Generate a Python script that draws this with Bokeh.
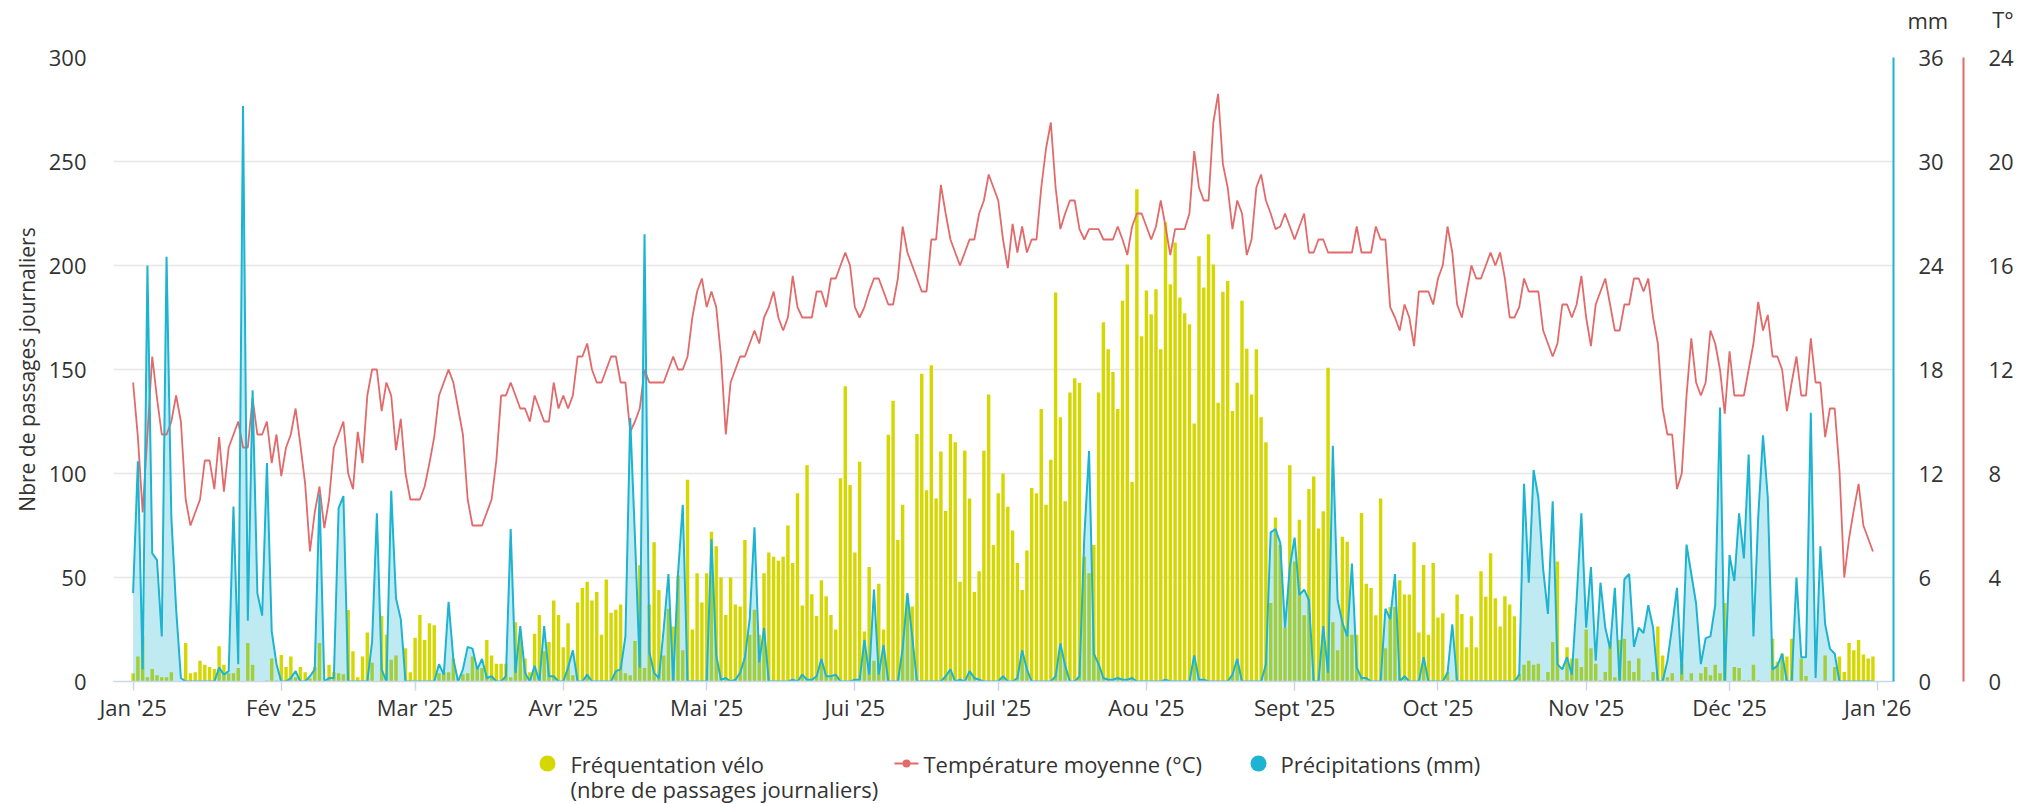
from bokeh.plotting import figure
from bokeh.layouts import column
from bokeh.models import Range1d, LinearAxis, FixedTicker, ColumnDataSource
from bokeh.core.properties import value
from bokeh.embed import file_html
from bokeh.resources import INLINE

# ---------------- data (one value per day of 2025) ----------------
month_ticks = [0, 31, 59, 90, 120, 151, 181, 212, 243, 273, 304, 334, 365]
month_labels = ["Jan '25", "Fév '25", "Mar '25", "Avr '25", "Mai '25", "Jui '25",
                "Juil '25", "Aou '25", "Sept '25", "Oct '25", "Nov '25", "Déc '25", "Jan '26"]

# daily bicycle counts
velo = [
    4, 12, 22, 2, 6, 3, 2, 2, 4.5, 0, 0, 18.5, 4, 4.5, 10, 8, 7, 6, 17, 8, 4, 4, 6.5, 0, 18.5, 8, 0, 0, 0.5, 11, 0.5,
    12.7, 7, 12, 2, 7, 4.5, 1.5, 7, 18.5, 0, 8, 4.5, 4, 3.5, 34.4, 14.5, 2, 12, 23.5, 9, 0, 31.5, 22.5, 10.5, 12.5, 0, 16, 4.5,
    21, 32, 20, 28, 27, 4, 4.5, 4.5, 11, 1.5, 3.5, 4, 12, 7.5, 6.5, 20, 12.5, 8.5, 8.5, 8.5, 2, 28.5, 22.5, 11, 4.5, 23, 32, 14.5, 19, 39, 32,
    16.5, 28, 3, 38, 45, 48, 39, 43, 22.5, 49, 33, 34.5, 37, 4, 3, 19.5, 56, 6.5, 37, 67, 44, 12.5, 35, 26.5, 51, 15, 97, 25, 52, 38,
    52, 72, 65, 50, 32, 50, 37, 36, 68, 22.5, 34.5, 22.5, 52, 62, 60, 58, 60, 75, 57, 90.5, 36.5, 104, 42, 31.5, 48.7, 41, 32, 25, 97.7, 142, 94.5,
    62, 105.6, 24, 55, 10, 47, 25, 118.6, 135, 68, 85, 41.4, 36, 119, 148, 92, 152, 88, 110.6, 82, 119, 115, 48, 111, 88, 43, 53, 111, 138, 65.6,
    90.5, 100, 84, 72.6, 57, 44, 63, 93, 90.5, 131, 85, 106.6, 187, 127, 86.7, 139, 145.8, 143.6, 60, 52, 65.6, 139, 172.7, 159.7, 148.8, 131, 183, 200.5, 96, 236.7, 166,
    188, 176.6, 188.6, 159.7, 220.8, 191, 211, 184.6, 177, 171.7, 124, 204.5, 189.4, 215, 200.5, 134, 187.4, 192.6, 130, 143.6, 183, 160, 138, 159.7, 127, 115, 37.8, 78.8, 65.6, 26, 104,
    57.7, 77.8, 31.8, 92.5, 98.5, 73.6, 81.8, 150.8, 28.5, 15, 69.6, 67.2, 22.5, 22.5, 81, 47, 45, 31.8, 88, 16, 35.8, 35.8, 48.7, 41.8, 41.8, 67, 23.5, 56, 22.5, 57,
    30.8, 32.8, 4.6, 0.6, 41.8, 32.4, 16.5, 31.4, 16.5, 53, 40.8, 61.7, 40, 26.5, 41, 37, 31.4, 3.6, 8, 10, 8, 8.5, 0.6, 4.6, 19, 57.7, 0.6, 16.5, 11, 11, 7,
    25, 16, 8.5, 0.6, 4.6, 19, 2, 20, 20.5, 10, 4.6, 11, 0.6, 0.6, 4.6, 26.5, 12.5, 2, 4, 0, 8.5, 0.6, 4, 0, 4, 7, 3, 8, 4, 37.8,
    0, 7, 6.5, 0.6, 0.6, 8, 0.6, 0, 0, 20.5, 9.5, 13.5, 12, 20.5, 0, 11, 2.6, 0, 0, 0, 12.5, 0, 7, 12, 4.6, 18.5, 15, 20, 13, 11, 12,
]

# daily mean temperature (°C)
temperature = [
    11.5, 9.4, 6.5, 9.5, 12.5, 10.9, 9.5, 9.5, 10.0, 11.0, 10.0, 7.0, 6.0, 6.5, 7.0, 8.5, 8.5, 7.4, 9.4, 7.3, 9.0, 9.5, 10.0, 9.0, 9.0, 10.9, 9.5, 9.5, 10.0, 8.4, 9.5,
    7.9, 9.0, 9.5, 10.5, 9.1, 7.6, 5.0, 6.5, 7.5, 5.9, 7.0, 9.0, 9.5, 10.0, 8.0, 7.4, 9.6, 8.4, 11.0, 12.0, 12.0, 10.4, 11.5, 11.0, 8.9, 10.1, 8.0, 7.0,
    7.0, 7.0, 7.5, 8.4, 9.4, 11.0, 11.5, 12.0, 11.5, 10.5, 9.5, 7.0, 6.0, 6.0, 6.0, 6.5, 7.0, 8.5, 11.0, 11.0, 11.5, 11.0, 10.5, 10.5, 10.0, 11.0, 10.5, 10.0, 10.0, 11.5, 10.5,
    11.0, 10.5, 11.0, 12.5, 12.5, 13.0, 12.0, 11.5, 11.5, 12.0, 12.5, 12.5, 11.5, 11.5, 9.6, 10.0, 10.5, 12.0, 11.5, 11.5, 11.5, 11.5, 12.0, 12.5, 12.0, 12.0, 12.5, 14.0, 15.0, 15.5,
    14.4, 15.0, 14.4, 12.5, 9.5, 11.5, 12.0, 12.5, 12.5, 13.0, 13.5, 13.0, 14.0, 14.4, 15.0, 14.0, 13.5, 14.0, 15.6, 14.4, 14.0, 14.0, 14.0, 15.0, 15.0, 14.4, 15.5, 15.5, 16.0, 16.5, 16.0,
    14.4, 14.0, 14.4, 15.0, 15.5, 15.5, 15.0, 14.5, 14.5, 15.5, 17.5, 16.5, 16.0, 15.5, 15.0, 15.0, 17.0, 17.0, 19.1, 18.0, 17.0, 16.5, 16.0, 16.5, 17.0, 17.0, 18.0, 18.5, 19.5, 19.0,
    18.5, 17.0, 15.9, 17.6, 16.5, 17.5, 16.5, 17.0, 17.0, 19.0, 20.5, 21.5, 19.0, 17.4, 18.0, 18.5, 18.5, 17.4, 17.0, 17.4, 17.4, 17.4, 17.0, 17.0, 17.0, 17.5, 17.0, 16.4, 17.5, 18.0, 18.0,
    17.5, 17.0, 17.5, 18.5, 17.5, 16.4, 17.4, 17.4, 17.4, 18.0, 20.4, 19.0, 18.5, 18.5, 21.5, 22.6, 19.9, 19.0, 17.4, 18.5, 18.0, 16.4, 17.0, 19.0, 19.5, 18.5, 18.0, 17.4, 17.5, 18.0, 17.5,
    17.0, 17.5, 18.0, 16.5, 16.5, 17.0, 17.0, 16.5, 16.5, 16.5, 16.5, 16.5, 16.5, 17.5, 16.5, 16.5, 16.5, 17.5, 17.0, 17.0, 14.4, 14.0, 13.5, 14.5, 14.0, 12.9, 15.0, 15.0, 15.0, 14.5,
    15.5, 16.0, 17.5, 16.5, 14.5, 14.0, 15.0, 16.0, 15.5, 15.5, 16.0, 16.5, 16.0, 16.5, 15.5, 14.0, 14.0, 14.4, 15.5, 15.0, 15.0, 15.0, 13.5, 13.0, 12.5, 13.0, 14.5, 14.5, 14.0, 14.5, 15.6,
    14.0, 12.9, 14.5, 15.0, 15.5, 14.5, 13.5, 13.5, 14.5, 14.5, 15.5, 15.5, 15.0, 15.5, 14.0, 13.0, 10.5, 9.5, 9.5, 7.4, 8.0, 11.0, 13.2, 11.5, 11.0, 11.5, 13.5, 13.0, 12.0, 10.3,
    12.7, 11.0, 11.0, 11.0, 12.0, 13.0, 14.6, 13.5, 14.1, 12.5, 12.5, 12.0, 10.4, 11.5, 12.5, 11.0, 11.0, 13.2, 11.5, 11.5, 9.4, 10.5, 10.5, 8.1, 4.0, 5.5, 6.6, 7.6, 6.0, 5.5, 5.0,
]

# daily precipitation (mm)
precipitations = [
    5.1, 12.7, 0.7, 24.0, 7.4, 7.0, 2.6, 24.5, 9.5, 4.2, 0.2, 0, 0, 0, 0, 0, 0, 0, 0.8, 0.4, 0.6, 10.1, 1.0, 33.2, 3.5, 16.8, 5.1, 3.8, 12.6, 2.9, 1.0,
    0, 0, 0.2, 0.6, 0, 0, 0.3, 0.7, 10.8, 0, 0.2, 0.2, 10.0, 10.7, 0, 0, 0, 0, 0, 2.3, 9.7, 0.7, 0, 11.0, 4.8, 3.6, 0, 0,
    0, 0, 0, 0, 0, 1.0, 0.4, 4.6, 1.3, 0, 0.7, 2.0, 1.9, 0.7, 1.3, 0.2, 0.3, 0, 0, 0.3, 8.8, 0.5, 3.2, 0.5, 0, 0.9, 0, 3.2, 0.3, 0.3, 0,
    0, 0.8, 1.8, 0, 0, 0.4, 0, 0, 0, 0, 0, 0.6, 0.7, 2.6, 15.2, 8.3, 0.8, 25.8, 1.7, 0.5, 0.2, 3.0, 6.2, 0, 6.2, 10.2, 0, 0, 0, 0,
    0, 8.2, 1.5, 0.1, 0.2, 0, 0.1, 0.5, 1.4, 3.6, 8.9, 1.1, 3.1, 0, 0, 0, 0, 0, 0.1, 0, 0.4, 0.1, 0.1, 0.3, 1.3, 0.3, 0.3, 0.4, 0, 0, 0,
    0.1, 0.1, 2.4, 0.4, 5.3, 0.4, 2.1, 0, 0, 0, 1.9, 5.1, 2.6, 0, 0, 0, 0, 0, 0, 0.3, 0.7, 0, 0.1, 0, 0.6, 0.2, 0.1, 0, 0, 0,
    0, 0.3, 0, 0, 0.2, 1.8, 0.7, 0, 0, 0, 0, 0, 0.3, 2.2, 0.9, 0, 0, 0.3, 8.3, 13.3, 1.6, 1.0, 0.2, 0.1, 0.1, 0.2, 0.1, 0.1, 0.2, 0, 0,
    0, 0, 0, 0, 0.1, 0, 0, 0, 0, 0, 1.5, 0.1, 0.1, 0, 0, 0, 0, 0, 0.4, 1.3, 0, 0, 0, 0, 0, 1.0, 8.6, 8.8, 8.0, 3.1, 6.6,
    8.3, 5.0, 5.3, 4.7, 0, 0, 3.2, 0.5, 13.6, 4.7, 3.4, 2.6, 6.8, 0.8, 0.2, 0.2, 0, 0, 0, 4.2, 3.6, 6.2, 0, 0.3, 0, 0, 0, 1.4, 0, 0,
    0, 0, 0.5, 3.3, 0, 0, 0, 0, 0, 0, 0, 0, 0, 0, 0, 0, 0, 0.4, 11.4, 5.7, 12.2, 10.6, 6.5, 3.9, 10.4, 1.0, 0.7, 1.4, 0.4, 4.7, 9.7,
    3.1, 6.6, 1.2, 5.7, 3.1, 1.9, 5.4, 0, 5.9, 6.2, 2.0, 3.1, 2.8, 4.4, 3.1, 0, 0, 1.2, 3.2, 5.4, 0.4, 7.9, 6.2, 4.5, 1.0, 2.5, 2.6, 4.4, 15.8, 0,
    7.3, 5.8, 9.7, 7.1, 13.1, 2.6, 9.5, 14.2, 10.6, 0.7, 0.9, 1.6, 0, 0, 6.0, 1.4, 1.4, 15.5, 0.2, 7.8, 3.3, 1.9, 1.6, 0, 0, 0, 0, 0, 0, 0, 0,
]

velo_ticks = [0, 50, 100, 150, 200, 250, 300]
mm_ticks = [0, 6, 12, 18, 24, 30, 36]
temp_ticks = [0, 4, 8, 12, 16, 20, 24]
unit_mm = "mm"
unit_temp = "T°"
legend_labels = ["Fréquentation vélo", "(nbre de passages journaliers)",
                 "Température moyenne (°C)", "Précipitations (mm)"]

# ---------------- styling / geometry ----------------
YEL = "#d5d800"
CYAN = "#1cb4d0"
RED = "#e26a6a"
TXT = "#333333"
FONT = "Open Sans"
FS = "22px"
LEFT, FRAME_W, RIGHT = 113, 1780, 126


def strip(height, yr):
    f = figure(frame_width=FRAME_W, frame_height=height,
               min_border_left=LEFT, min_border_right=RIGHT,
               min_border_top=0, min_border_bottom=0,
               x_range=Range1d(LEFT, LEFT + FRAME_W), y_range=Range1d(0, yr),
               x_axis_location=None, y_axis_location=None,
               output_backend="svg", toolbar_location=None)
    f.grid.visible = False
    f.outline_line_color = None
    return f


# ---- top strip: titles of the two right axes ----
top = strip(36, 36)
top_ax = LinearAxis(ticker=FixedTicker(ticks=[17]), major_label_overrides={17: unit_mm},
                    axis_line_color=None, major_tick_line_color=None, minor_tick_line_color=None,
                    major_tick_out=0, major_tick_in=0, major_label_standoff=14,
                    major_label_text_font=FONT, major_label_text_font_size=FS,
                    major_label_text_color=TXT,
                    axis_label=unit_temp, axis_label_orientation="horizontal",
                    axis_label_standoff=41, axis_label_text_font=FONT,
                    axis_label_text_font_size=FS, axis_label_text_font_style="normal",
                    axis_label_text_color=TXT)
top.add_layout(top_ax, "right")
top.scatter(x=[LEFT], y=[-10], size=1, alpha=0)

# ---- main chart ----
days = list(range(len(velo)))
src = ColumnDataSource(dict(day=days, velo=velo, temp=temperature, pluie=precipitations))

p = figure(frame_width=FRAME_W, frame_height=624,
           min_border_left=LEFT, min_border_right=RIGHT, min_border_top=21, min_border_bottom=49,
           x_range=Range1d(-4.1, 368.3), y_range=Range1d(0, 300),
           output_backend="svg", toolbar_location=None)
p.outline_line_color = None
p.extra_y_ranges = {"mm": Range1d(0, 36), "temp": Range1d(0, 24)}

p.vbar(x="day", top="velo", width=0.72, source=src, fill_color=YEL, line_color=None)
p.varea(x="day", y1=0, y2="pluie", source=src, y_range_name="mm",
        fill_color=CYAN, fill_alpha=0.28)
p.line("day", "temp", source=src, y_range_name="temp", line_color=RED, line_width=1.8)
p.line("day", "pluie", source=src, y_range_name="mm", line_color=CYAN, line_width=2)

p.xgrid.visible = False
p.ygrid.ticker = FixedTicker(ticks=velo_ticks)
p.ygrid.grid_line_color = "#e6e6e6"
p.ygrid.grid_line_width = 1.5

xa = p.xaxis[0]
xa.ticker = FixedTicker(ticks=month_ticks)
xa.major_label_overrides = {t: l for t, l in zip(month_ticks, month_labels)}
xa.axis_line_color = "#ccd6eb"
xa.axis_line_width = 1.5
xa.major_tick_line_color = "#ccd6eb"
xa.major_tick_line_width = 1.5
xa.major_tick_out = 9
xa.major_tick_in = 0
xa.minor_tick_line_color = None
xa.major_label_standoff = 1
xa.major_label_text_font = FONT
xa.major_label_text_font_size = FS
xa.major_label_text_color = TXT

ya = p.yaxis[0]
ya.ticker = FixedTicker(ticks=velo_ticks)
ya.axis_line_color = None
ya.major_tick_line_color = None
ya.major_tick_out = 0
ya.major_tick_in = 0
ya.minor_tick_line_color = None
ya.major_label_standoff = 27
ya.major_label_text_font = FONT
ya.major_label_text_font_size = FS
ya.major_label_text_color = TXT
ya.axis_label = "Nbre de passages journaliers"
ya.axis_label_standoff = 5
ya.axis_label_text_font = FONT
ya.axis_label_text_font_size = "21px"
ya.axis_label_text_font_style = "normal"
ya.axis_label_text_color = TXT

ax_mm = LinearAxis(y_range_name="mm", ticker=FixedTicker(ticks=mm_ticks),
                   axis_line_color=CYAN, axis_line_width=2,
                   major_tick_line_color=None, minor_tick_line_color=None,
                   major_tick_out=0, major_tick_in=0,
                   major_label_standoff=25, major_label_text_font=FONT,
                   major_label_text_font_size=FS, major_label_text_color=TXT,
                   axis_label=" ", axis_label_text_font_size="2px", axis_label_standoff=12)
p.add_layout(ax_mm, "right")
ax_t = LinearAxis(y_range_name="temp", ticker=FixedTicker(ticks=temp_ticks),
                  axis_line_color=RED, axis_line_width=2,
                  major_tick_line_color=None, minor_tick_line_color=None,
                  major_tick_out=0, major_tick_in=0,
                  major_label_standoff=25, major_label_text_font=FONT,
                  major_label_text_font_size=FS, major_label_text_color=TXT)
p.add_layout(ax_t, "right")

# ---- legend strip (x in page pixels) ----
leg = strip(74, 74)
leg.scatter(x=[547, 1258], y=[41, 41], marker="circle", size=16,
            fill_color=[YEL, CYAN], line_color=None)
leg.line(x=[894, 918], y=[41, 41], line_color=RED, line_width=2)
leg.scatter(x=[906], y=[41], marker="circle", size=8, fill_color=RED, line_color=None)
leg.text(x=[570, 570, 923, 1280], y=[41, 16, 41, 41], text=legend_labels,
         text_align="left", text_baseline="middle", text_font=value(FONT),
         text_font_size=value(FS), text_color=TXT)

layout = column(top, p, leg, spacing=0)
open("out.html", "w").write(file_html(layout, INLINE))
